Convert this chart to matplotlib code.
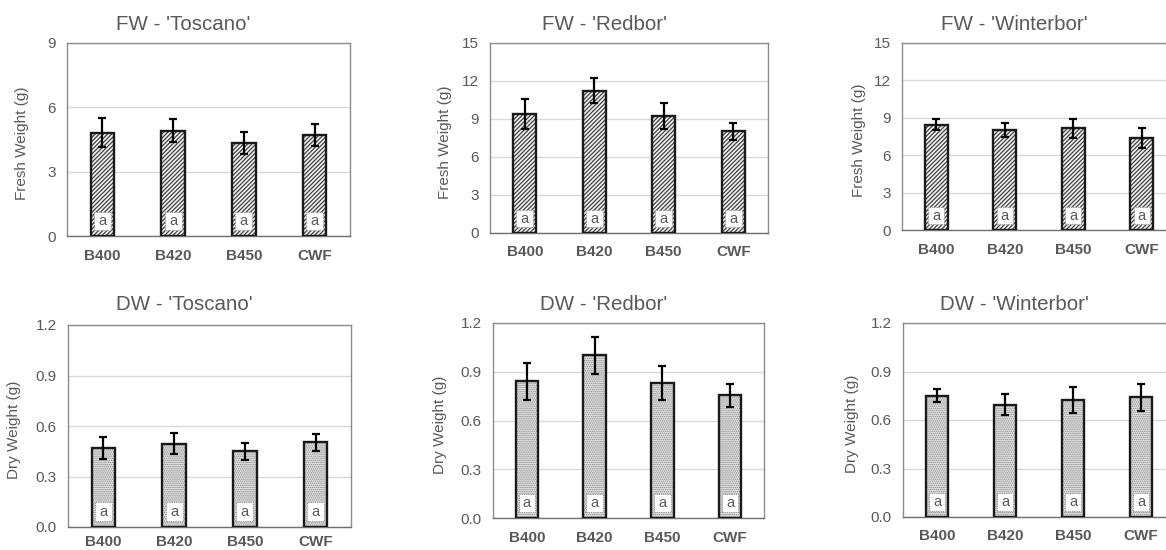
import matplotlib
matplotlib.use("Agg")
import matplotlib.pyplot as plt
import numpy as np
from matplotlib.transforms import blended_transform_factory
from matplotlib.patches import Rectangle

plt.rcParams['font.family'] = ['Liberation Sans', 'DejaVu Sans']

categories = ["B400", "B420", "B450", "CWF"]
letters = ["a", "a", "a", "a"]

fw_toscano = [4.82, 4.91, 4.35, 4.72]
fw_toscano_err = [0.67, 0.53, 0.51, 0.50]
fw_redbor = [9.39, 11.23, 9.26, 8.03]
fw_redbor_err = [1.16, 1.00, 1.03, 0.65]
fw_winterbor = [8.46, 8.06, 8.17, 7.39]
fw_winterbor_err = [0.43, 0.56, 0.77, 0.78]

dw_toscano = [0.470, 0.496, 0.449, 0.504]
dw_toscano_err = [0.064, 0.062, 0.051, 0.051]
dw_redbor = [0.841, 1.001, 0.829, 0.755]
dw_redbor_err = [0.113, 0.115, 0.105, 0.070]
dw_winterbor = [0.750, 0.694, 0.723, 0.740]
dw_winterbor_err = [0.041, 0.066, 0.080, 0.082]

W, H = 1166, 550
fig = plt.figure(figsize=(W / 100, H / 100), dpi=100)

GRAY = "#595959"

panels = [
    ("FW - 'Toscano'", fw_toscano, fw_toscano_err, "Fresh Weight (g)", 9, [0, 3, 6, 9], "{:.0f}", (67, 350, 43, 236), "fw", 45, 9),
    ("FW - 'Redbor'", fw_redbor, fw_redbor_err, "Fresh Weight (g)", 15, [0, 3, 6, 9, 12, 15], "{:.0f}", (490, 768, 43, 233), "fw", 45, 9),
    ("FW - 'Winterbor'", fw_winterbor, fw_winterbor_err, "Fresh Weight (g)", 15, [0, 3, 6, 9, 12, 15], "{:.0f}", (902, 1176, 43, 230), "fw", 43, 9),
    ("DW - 'Toscano'", dw_toscano, dw_toscano_err, "Dry Weight (g)", 1.2, [0, 0.3, 0.6, 0.9, 1.2], "{:.1f}", (68, 351, 325, 527), "dw", 54, 5.5),
    ("DW - 'Redbor'", dw_redbor, dw_redbor_err, "Dry Weight (g)", 1.2, [0, 0.3, 0.6, 0.9, 1.2], "{:.1f}", (493, 764, 323, 518), "dw", 53, 9),
    ("DW - 'Winterbor'", dw_winterbor, dw_winterbor_err, "Dry Weight (g)", 1.2, [0, 0.3, 0.6, 0.9, 1.2], "{:.1f}", (903, 1175, 323, 517), "dw", 51, 9),
]

for title, vals, errs, ylab, ymax, yticks, fmt, (l, r, t, b), kind, yl_off, xpad in panels:
    ax = fig.add_axes([l / W, 1 - b / H, (r - l) / W, (b - t) / H])
    x = np.arange(len(categories))
    if kind == "fw":
        plt.rcParams['hatch.linewidth'] = 0.9
        ax.bar(x, vals, width=0.33, color="#f2f2f2", edgecolor="#404040",
               hatch="////////", linewidth=0, zorder=2)
    else:
        plt.rcParams['hatch.linewidth'] = 0.7
        ax.bar(x, vals, width=0.33, color="#e2e2e2", edgecolor="#8a8a8a",
               hatch="........", linewidth=0, zorder=2)
    ax.bar(x, vals, width=0.33, fill=False, edgecolor="#1a1a1a", linewidth=1.7, zorder=3)
    ax.errorbar(x, vals, yerr=errs, fmt="none", ecolor="black", elinewidth=1.6,
                capsize=3, capthick=1.6, zorder=4)
    trans = blended_transform_factory(ax.transData, ax.transAxes)
    for xi, lt in zip(x, letters):
        ax.add_patch(Rectangle((xi - 0.12, 0.03), 0.24, 0.093, transform=trans,
                               facecolor="white", edgecolor="#9a9a9a",
                               linestyle=(0, (1, 1)), linewidth=0.8, zorder=4))
        ax.text(xi, 0.076, lt, transform=trans, ha="center", va="center",
                fontsize=10.5, color=GRAY, zorder=5)
    ax.set_xlim(-0.5, len(categories) - 0.5)
    ax.set_ylim(0, ymax)
    ax.set_yticks(yticks)
    ax.set_yticklabels([fmt.format(v) for v in yticks])
    ax.set_xticks(x)
    ax.set_xticklabels(categories, fontweight="bold")
    ax.tick_params(axis="both", length=0, colors=GRAY, labelsize=11)
    ax.tick_params(axis="x", pad=xpad)
    ax.tick_params(axis="y", pad=8)
    ax.yaxis.grid(True, color="#d9d9d9", linewidth=1, zorder=0)
    ax.set_axisbelow(True)
    for s in ax.spines.values():
        s.set_color("#8c8c8c")
        s.set_linewidth(1)
    ax.spines["bottom"].set_color("#707070")
    ax.set_ylabel(ylab, color=GRAY, fontsize=11, va="center")
    ax.yaxis.set_label_coords(-yl_off / (r - l), 0.48)
    cx = (l + r) / 2 - 25
    ty = 25 if t < 100 else 305
    fig.text(cx / W, 1 - ty / H, title, ha="center", va="center",
             fontsize=14.8, color=GRAY)

fig.savefig("out.png", dpi=100)
